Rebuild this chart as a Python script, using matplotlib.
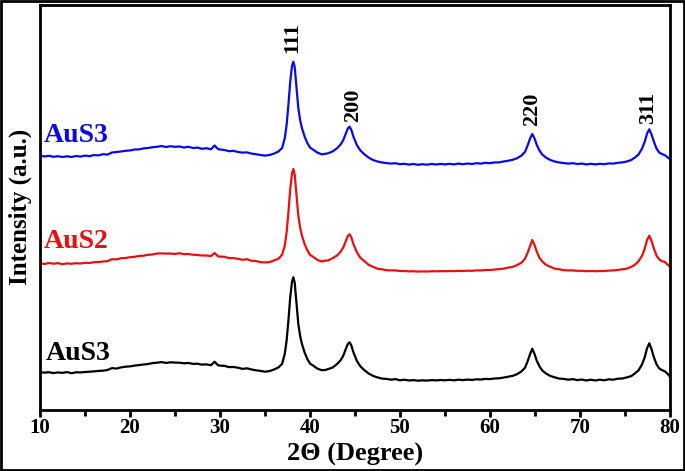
import matplotlib
matplotlib.use("Agg")
import matplotlib.pyplot as plt
from matplotlib.patches import Rectangle
from matplotlib.ticker import MultipleLocator

plt.rcParams['font.family'] = ['Liberation Serif', 'DejaVu Serif']
plt.rcParams['font.weight'] = 'bold'

# 2-theta positions (degrees)
two_theta = [10.0, 10.5, 11.0, 11.5, 12.0, 12.5, 13.0, 13.5, 14.0, 14.5,
             15.0, 15.5, 16.0, 16.5, 17.0, 17.5, 18.0, 18.5, 19.0, 19.5,
             20.0, 20.5, 21.0, 21.5, 22.0, 22.5, 23.0, 23.5, 24.0, 24.5,
             25.0, 25.5, 26.0, 26.5, 27.0, 27.5, 28.0, 28.5, 29.0, 29.4,
             29.8, 30.5, 31.0, 31.5, 32.0, 32.5, 33.0, 33.5, 34.0, 34.5,
             35.0, 35.5, 36.0, 36.5, 36.9, 37.2, 37.4, 37.6, 37.8, 38.0,
             38.15, 38.3, 38.45, 38.7, 38.9, 39.1, 39.4, 39.7, 40.0, 40.4,
             40.8, 41.3, 41.7, 42.0, 42.5, 43.0, 43.4, 43.7, 44.0, 44.2,
             44.4, 44.6, 44.8, 45.2, 45.6, 46.0, 46.5, 47.0, 47.5, 48.0,
             48.5, 49.0, 49.5, 50.0, 50.5, 51.0, 51.5, 52.0, 52.5, 53.0,
             53.5, 54.0, 54.5, 55.0, 55.5, 56.0, 56.5, 57.0, 57.5, 58.0,
             58.5, 59.0, 59.5, 60.0, 60.5, 61.0, 61.5, 62.0, 62.5, 63.0,
             63.5, 63.9, 64.2, 64.45, 64.7, 64.95, 65.2, 65.5, 65.8, 66.2,
             66.7, 67.2, 67.7, 68.2, 68.7, 69.2, 69.7, 70.2, 70.7, 71.2,
             71.7, 72.2, 72.7, 73.2, 73.7, 74.2, 74.7, 75.2, 75.7, 76.1,
             76.5, 76.9, 77.2, 77.45, 77.7, 77.95, 78.2, 78.5, 78.8, 79.1,
             79.4, 79.7, 80.0]

# intensities (a.u.), top curve
aus3_top = [14.5, 13.5, 14.2, 13.2, 13.8, 13.0, 13.7, 13.0, 14.0, 13.4,
            14.4, 13.8, 15.0, 14.6, 15.8, 15.4, 17.5, 18.0, 18.5, 19.2,
            19.5, 20.5, 20.6, 21.6, 22.0, 22.8, 23.2, 24.0, 23.0, 23.8,
            23.2, 23.5, 22.5, 23.2, 22.0, 22.4, 21.2, 21.8, 20.7, 24.5,
            20.8, 20.0, 18.8, 19.2, 18.0, 17.4, 17.6, 16.4, 15.8, 15.0,
            14.4, 15.0, 16.4, 18.5, 22.0, 32.0, 45.0, 65.0, 88.0, 104.0,
            108.3, 103.0, 88.0, 62.0, 50.0, 42.0, 33.5, 27.0, 22.5, 20.0,
            17.5, 15.7, 16.2, 16.7, 18.5, 21.7, 25.5, 30.0, 37.0, 41.5,
            43.3, 40.0, 34.0, 25.0, 19.5, 16.0, 12.5, 10.0, 8.5, 7.5,
            7.0, 6.4, 6.8, 5.8, 6.2, 5.4, 6.0, 5.2, 5.8, 5.3,
            6.0, 5.5, 6.1, 5.6, 6.2, 5.6, 6.4, 5.8, 6.5, 6.0,
            6.8, 6.4, 7.2, 6.8, 7.6, 7.6, 8.5, 9.2, 10.2, 11.7,
            14.5, 18.3, 25.0, 31.5, 36.0, 31.5, 25.0, 19.5, 15.5, 12.5,
            10.0, 8.5, 7.5, 7.0, 6.4, 6.8, 6.0, 6.4, 5.6, 6.2,
            5.6, 6.2, 5.8, 6.6, 6.4, 7.2, 7.6, 8.5, 10.0, 12.5,
            15.5, 21.5, 28.5, 36.5, 40.7, 35.5, 28.5, 21.5, 17.5, 16.0,
            15.0, 13.0, 10.7]

# middle curve
aus2 = [13.7, 13.0, 14.0, 13.3, 13.9, 12.8, 13.6, 13.2, 13.8, 13.5,
        14.2, 14.0, 14.8, 14.9, 15.5, 15.8, 17.8, 17.6, 18.8, 19.0,
        19.8, 20.2, 21.0, 21.3, 22.2, 22.5, 23.5, 23.6, 23.4, 23.5,
        23.0, 23.8, 22.8, 22.9, 22.3, 22.0, 21.5, 21.5, 20.9, 24.0,
        20.5, 20.2, 19.0, 18.9, 18.2, 17.2, 17.8, 16.2, 16.0, 14.8,
        14.6, 14.8, 16.6, 18.3, 22.3, 31.5, 44.5, 64.5, 87.5, 103.5,
        108.0, 102.5, 87.5, 61.5, 49.5, 41.5, 33.0, 26.8, 22.2, 19.8,
        17.2, 15.5, 16.4, 16.5, 18.7, 21.5, 25.2, 29.6, 36.5, 41.0,
        42.7, 39.5, 33.6, 24.8, 19.2, 16.2, 12.3, 10.2, 8.3, 7.7,
        6.8, 6.6, 6.6, 6.0, 6.0, 5.6, 5.8, 5.4, 5.6, 5.5,
        5.8, 5.7, 5.9, 5.8, 6.0, 5.8, 6.2, 6.0, 6.3, 6.2,
        6.6, 6.6, 7.0, 7.0, 7.4, 7.8, 8.3, 9.4, 10.0, 11.9,
        14.3, 18.5, 24.6, 31.0, 37.0, 32.0, 25.3, 19.2, 15.7, 12.3,
        10.2, 8.3, 7.7, 6.8, 6.6, 6.6, 6.2, 6.2, 5.8, 6.0,
        5.8, 6.0, 6.0, 6.4, 6.6, 7.0, 7.8, 8.3, 10.2, 12.3,
        15.7, 21.3, 28.8, 37.0, 41.3, 36.0, 28.8, 21.3, 17.7, 15.8,
        15.2, 12.8, 10.3]

# bottom curve
aus3_bottom = [13.7, 13.4, 13.8, 12.9, 13.6, 13.1, 13.9, 12.8, 13.7, 13.6,
               14.0, 14.3, 14.6, 15.1, 15.3, 16.0, 17.9, 17.4, 18.6, 19.3,
               19.6, 20.4, 20.9, 21.5, 22.0, 22.9, 23.3, 23.9, 23.1, 23.7,
               23.4, 23.3, 22.7, 23.0, 22.1, 22.3, 21.4, 21.6, 20.8, 24.3,
               20.6, 20.1, 18.9, 19.0, 18.3, 17.1, 17.7, 16.5, 15.7, 15.1,
               14.3, 14.9, 16.5, 18.6, 22.1, 32.3, 45.3, 65.3, 88.3, 104.3,
               108.7, 103.4, 88.2, 62.2, 50.2, 42.2, 33.6, 27.1, 22.4, 20.1,
               17.4, 15.8, 16.0, 16.9, 18.4, 21.9, 25.7, 30.4, 37.6, 42.0,
               43.7, 40.4, 34.3, 25.2, 19.6, 16.1, 12.6, 10.1, 8.6, 7.4,
               7.1, 6.3, 6.9, 5.7, 6.3, 5.5, 5.9, 5.3, 5.7, 5.4,
               5.9, 5.6, 6.0, 5.7, 6.1, 5.7, 6.3, 5.9, 6.4, 6.1,
               6.7, 6.5, 7.1, 6.9, 7.5, 7.7, 8.4, 9.3, 10.1, 11.8,
               14.6, 18.4, 25.2, 31.8, 37.3, 31.9, 25.2, 19.6, 15.6, 12.6,
               10.1, 8.6, 7.4, 7.1, 6.3, 6.9, 5.9, 6.5, 5.5, 6.3,
               5.5, 6.3, 5.7, 6.7, 6.3, 7.3, 7.5, 8.6, 9.9, 12.6,
               15.6, 21.7, 29.0, 37.8, 42.7, 36.8, 29.0, 21.7, 17.6, 15.9,
               14.9, 12.5, 9.3]

sample_labels = ["AuS3", "AuS2", "AuS3"]
sample_colors = ["#0a0ae6", "#e81010", "black"]
offsets = [240, 133, 24]
curves = [aus3_top, aus2, aus3_bottom]

# Miller indices and their 2-theta positions
hkl_labels = ["111", "200", "220", "311"]
hkl_pos = [38.0, 44.8, 64.7, 77.6]
hkl_y = [357, 288, 284, 286]

fig = plt.figure(figsize=(6.85, 4.71), dpi=100)
ax = fig.add_axes([40 / 685, 1 - 410 / 471, 630 / 685, (410 - 4.7) / 471])

label_y = [268, 162, 50]
label_x = [10.45, 10.45, 10.65]
for y, off, col, lab, lx, ly in zip(curves, offsets, sample_colors,
                                    sample_labels, label_x, label_y):
    ax.plot(two_theta, [v + off for v in y], color=col, lw=1.6)
    ax.text(lx, ly, lab, color=col, fontsize=20, fontweight='bold',
            ha='left', va='baseline')

for lab, x, y in zip(hkl_labels, hkl_pos, hkl_y):
    ax.text(x, y, lab, rotation=90, fontsize=16, fontweight='bold',
            ha='center', va='bottom')

ax.set_xlim(10, 80)
ax.set_ylim(0, 405.3)
ax.set_yticks([])
ax.xaxis.set_major_locator(MultipleLocator(10))
ax.xaxis.set_minor_locator(MultipleLocator(5))
ax.tick_params(axis='x', which='major', length=5, width=2, labelsize=15, pad=0.5)
ax.tick_params(axis='x', which='minor', length=4, width=2)
for t in ax.get_xticklabels():
    t.set_fontweight('bold')
for s in ax.spines.values():
    s.set_linewidth(2)

ax.set_xlabel("2Θ (Degree)", fontsize=19, fontweight='bold', labelpad=4)
ax.set_ylabel("Intensity (a.u.)", fontsize=18, fontweight='bold')
ax.yaxis.set_label_coords(-0.012, 0.5)

# outer frame around the whole picture
fig.patches.append(Rectangle((0.002, 0.003), 0.996, 0.994, transform=fig.transFigure,
                             fill=False, edgecolor='black', lw=2))

fig.savefig("out.png", dpi=100)
